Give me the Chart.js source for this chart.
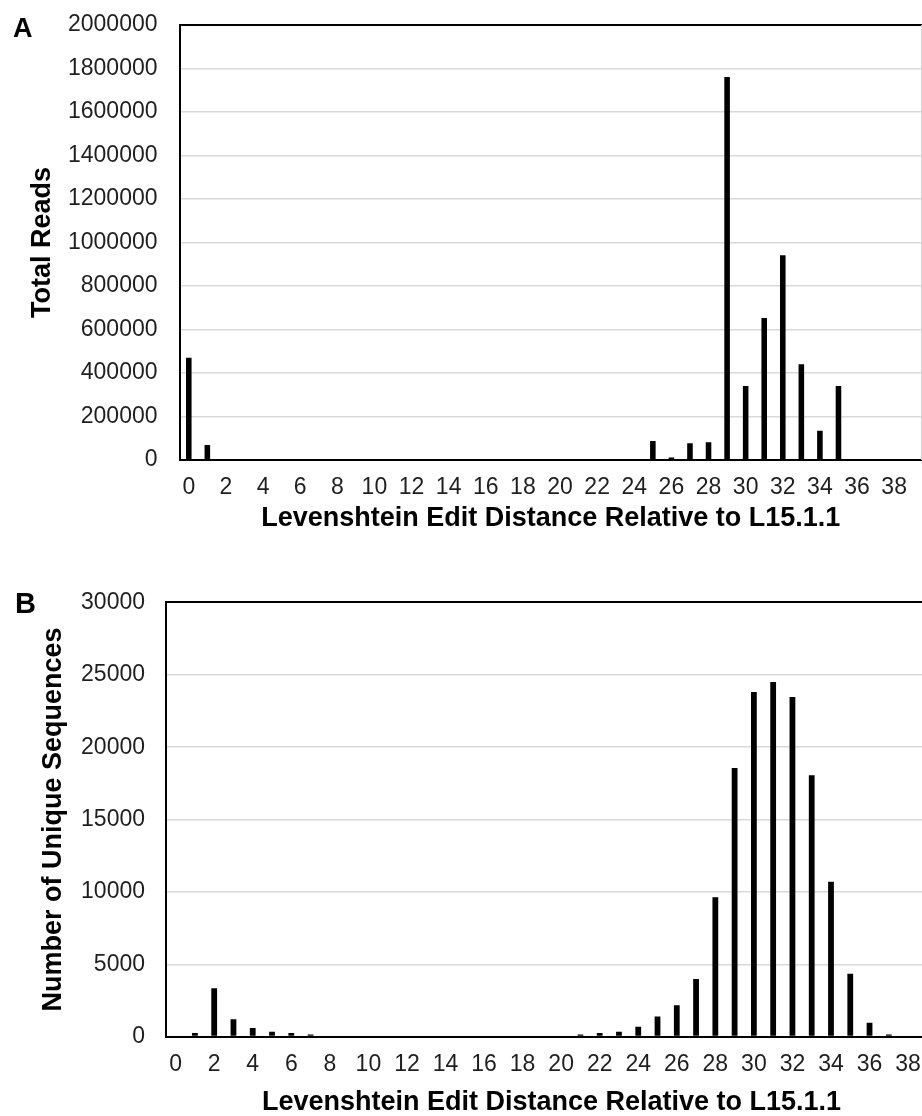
<!DOCTYPE html>
<html>
<head>
<meta charset="utf-8">
<title>Levenshtein edit distance</title>
<script src="https://cdn.jsdelivr.net/npm/chart.js@4.4.1/dist/chart.umd.min.js"></script>
<style>
  html, body { margin: 0; padding: 0; background: #fff; overflow: hidden; }
  #page { position: relative; width: 922px; height: 1116px; overflow: hidden; }
  #readsChart { position: absolute; left: 0; top: 0; }
  #uniqueChart { position: absolute; left: 0; top: 560px; }
</style>
</head>
<body>
<div id="page">
  <canvas id="readsChart" width="922" height="560"></canvas>
  <canvas id="uniqueChart" width="940" height="580"></canvas>
</div>
<script>
const distances = ['0', '1', '2', '3', '4', '5', '6', '7', '8', '9',
    '10', '11', '12', '13', '14', '15', '16', '17', '18', '19',
    '20', '21', '22', '23', '24', '25', '26', '27', '28', '29',
    '30', '31', '32', '33', '34', '35', '36', '37', '38', '39'];

const totalReads = [470000, 69000, 0, 0, 0, 0, 0, 0, 0, 0,
    0, 0, 0, 0, 0, 0, 0, 0, 0, 0,
    0, 0, 0, 0, 0, 87000, 12000, 77000, 82000, 1761000,
    340000, 653000, 941000, 440000, 135000, 340000, 0, 0, 0, 0];

const uniqueSequences = [0, 250, 3350, 1200, 600, 350, 250, 150, 0, 0,
    0, 0, 0, 0, 0, 0, 0, 0, 0, 0,
    0, 150, 250, 350, 690, 1400, 2180, 3980, 9640, 18560,
    23810, 24500, 23460, 18060, 10700, 4340, 960, 150, 0, 0];

const xTitle = 'Levenshtein Edit Distance Relative to L15.1.1';

Chart.defaults.font.family = '"Liberation Sans", Arial, sans-serif';
Chart.defaults.color = '#1f1f1f';

// panel letter plus the thin grey right edge of the plot box
const panelLetter = {
    id: 'panelLetter',
    afterDraw(chart, args, opts) {
        const { ctx, chartArea } = chart;
        ctx.save();
        ctx.strokeStyle = '#d4d4d4';
        ctx.lineWidth = 1;
        ctx.beginPath();
        ctx.moveTo(chartArea.right - 0.5, chartArea.top);
        ctx.lineTo(chartArea.right - 0.5, chartArea.bottom);
        ctx.stroke();
        ctx.fillStyle = '#000';
        ctx.font = 'bold ' + opts.size + 'px "Liberation Sans", Arial, sans-serif';
        ctx.textBaseline = 'alphabetic';
        ctx.fillText(opts.text, opts.x, opts.y);
        ctx.restore();
    }
};

function makeConfig(values, p) {
    return {
        type: 'bar',
        data: {
            labels: distances,
            datasets: [{
                data: values,
                backgroundColor: '#000',
                borderWidth: 0,
                barPercentage: 0.3,
                categoryPercentage: 1
            }]
        },
        options: {
            responsive: false,
            animation: false,
            layout: { padding: { left: 0, top: p.top, right: p.right, bottom: 0 } },
            plugins: {
                legend: { display: false },
                tooltip: { enabled: false },
                panelLetter: p.letter
            },
            scales: {
                x: {
                    grid: { display: false, drawTicks: false },
                    border: { display: true, color: '#000', width: 2 },
                    ticks: {
                        autoSkip: false,
                        maxRotation: 0,
                        padding: 14,
                        font: { size: 23 },
                        callback: function (v, i) {
                            return i % 2 === 0 ? this.getLabelForValue(v) : '';
                        }
                    },
                    title: {
                        display: true,
                        text: xTitle,
                        color: '#000',
                        font: { size: 27, weight: 'bold' },
                        padding: { top: 0, bottom: p.xTitlePad }
                    },
                    afterFit: s => {
                        s.height = p.xHeight;
                        s.paddingLeft = 0;
                        s.paddingRight = 0;
                    }
                },
                y: {
                    min: 0,
                    max: p.max,
                    ticks: {
                        stepSize: p.step,
                        padding: p.yTickPad,
                        font: { size: 23 },
                        callback: v => String(v)
                    },
                    grid: {
                        drawTicks: false,
                        color: c => (c.tick.value === p.max || c.tick.value === 0) ? '#000' : '#d9d9d9',
                        lineWidth: c => (c.tick.value === p.max || c.tick.value === 0) ? 2 : 1.5
                    },
                    border: { display: true, color: '#000', width: 2 },
                    title: {
                        display: true,
                        text: p.yTitle,
                        color: '#000',
                        font: { size: 27, weight: 'bold' },
                        padding: { top: p.yTitlePad, bottom: 0 }
                    },
                    afterFit: s => {
                        s.width = p.yWidth;
                        s.paddingTop = 0;
                        s.paddingBottom = 0;
                    }
                }
            }
        },
        plugins: [panelLetter]
    };
}

const readsChart = new Chart(document.getElementById('readsChart'), makeConfig(totalReads, {
    top: 25, right: 0, max: 2000000, step: 200000,
    yWidth: 179.5, yTickPad: 22, yTitle: 'Total Reads', yTitlePad: 26.8,
    xHeight: 100, xTitlePad: 25,
    letter: { text: 'A', size: 27, x: 13, y: 37 }
}));

const uniqueChart = new Chart(document.getElementById('uniqueChart'), makeConfig(uniqueSequences, {
    top: 42.4, right: 3, max: 30000, step: 5000,
    yWidth: 166, yTickPad: 21, yTitle: 'Number of Unique Sequences', yTitlePad: 37.4,
    xHeight: 103.3, xTitlePad: 21.3,
    letter: { text: 'B', size: 29, x: 15, y: 53.3 }
}));
</script>
</body>
</html>
